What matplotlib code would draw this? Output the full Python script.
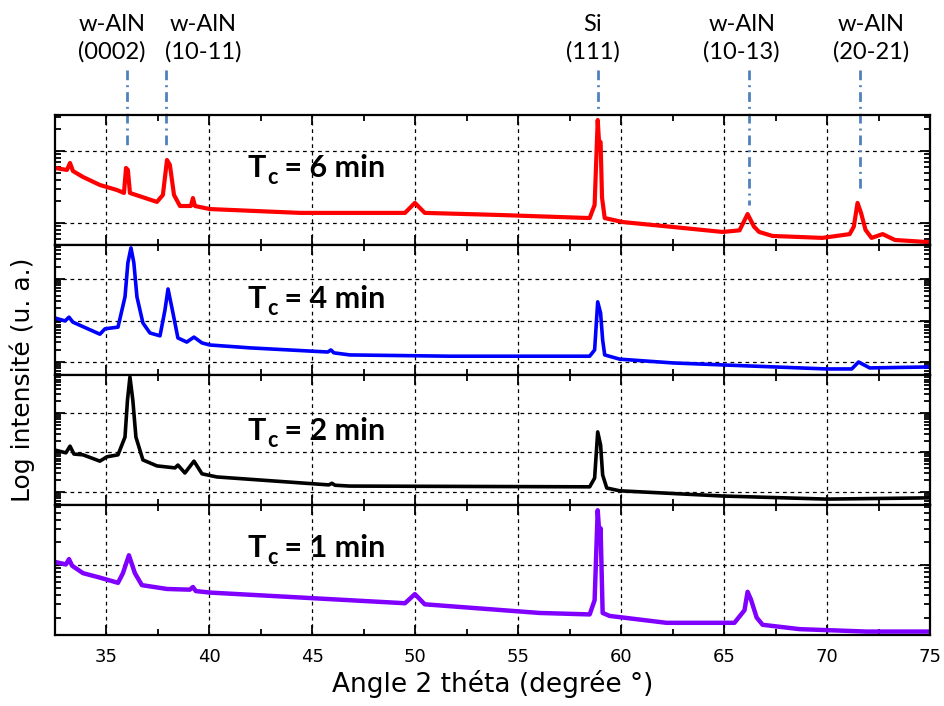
import matplotlib
matplotlib.use('Agg')
import matplotlib.pyplot as plt
from matplotlib.ticker import MultipleLocator, NullFormatter, LogLocator
import matplotlib.transforms as mtransforms

# --- XRD scans (2 theta in degrees, intensity in counts) ---
tt_6 = [32.5, 33.08, 33.23, 33.37, 33.86, 34.68, 35.51, 35.85, 35.95, 36.04, 36.14, 37.45, 37.74,
        37.94, 38.08, 38.28, 38.57, 39.1, 39.2, 39.3, 40.02, 44.4, 49.5, 49.98, 50.46, 54.1,
        58.47, 58.71, 58.86, 58.93, 59.0, 59.07, 59.2, 60.07, 62.5, 64.93, 65.75, 66.14, 66.45,
        66.7, 67.35, 69.78, 71.1, 71.3, 71.48, 71.65, 71.87, 72.16, 72.7, 73.3, 75.0]
int_6 = [581, 545, 681, 527, 435, 337, 287, 261, 581, 545, 261, 196, 245,
         750, 640, 245, 172, 172, 222, 172, 156, 138, 138, 190, 138, 129,
         117, 178, 2698, 1259, 1333, 224, 117, 103, 88, 75, 79, 133, 89,
         75, 66, 62, 70, 89, 190, 138, 80, 62, 70, 58, 54]

tt_4 = [32.5, 32.99, 33.18, 33.37, 34.68, 34.93, 35.56, 35.9, 36.04, 36.19, 36.33, 36.48, 36.77,
        37.11, 37.6, 37.84, 37.99, 38.23, 38.47, 38.9, 39.25, 39.64, 40.02, 41.97, 45.75, 45.9,
        46.05, 46.82, 51.67, 58.47, 58.71, 58.86, 59.0, 59.1, 59.2, 59.93, 62.5, 64.93, 69.97,
        71.2, 71.53, 72.07, 75.0]
int_4 = [1148, 977, 1202, 912, 468, 631, 692, 3715, 24547, 56234, 24547, 3715, 871,
         501, 427, 1778, 5754, 1514, 380, 302, 398, 288, 257, 219, 174, 195,
         166, 148, 138, 138, 195, 2818, 1514, 339, 148, 117, 95, 85, 68,
         68, 100, 72, 76]

tt_2 = [32.5, 33.03, 33.23, 33.42, 33.86, 34.68, 35.02, 35.56, 35.9, 36.02, 36.14, 36.28, 36.43,
        36.77, 37.45, 38.33, 38.47, 38.81, 39.25, 39.64, 40.36, 45.8, 45.95, 46.1, 46.82, 58.47,
        58.71, 58.86, 59.0, 59.1, 59.3, 59.93, 64.93, 69.97, 75.0]
int_2 = [1148, 977, 1445, 912, 871, 603, 776, 871, 2455, 21000, 81283, 21000, 2455,
         646, 457, 407, 479, 302, 603, 288, 240, 151, 166, 148, 141, 135,
         224, 3311, 1549, 269, 126, 107, 79, 66, 71]

tt_1 = [32.5, 33.03, 33.18, 33.33, 33.86, 34.68, 35.56, 35.8, 36.09, 36.38, 36.72, 37.94, 39.05,
        39.2, 39.34, 40.02, 46.82, 49.5, 49.98, 50.46, 56.04, 58.47, 58.71, 58.86, 58.96, 59.0,
        59.1, 59.44, 62.2, 65.5, 65.99, 66.14, 66.3, 66.58, 66.87, 68.67, 71.92, 75.0]
int_1 = [110, 102, 120, 98, 78, 68, 58, 78, 135, 78, 54, 48, 47,
         51, 45, 43, 34, 31, 41, 30, 23, 22, 34, 537, 214, 309,
         23, 21, 17, 17, 25, 44, 35, 20, 16, 14, 13, 13]

durations = ["6", "4", "2", "1"]
colors = ["#ff0000", "#0000ff", "#000000", "#8000ff"]

peak_names = ["w-AlN\n(0002)", "w-AlN\n(10-11)", "Si\n(111)", "w-AlN\n(10-13)", "w-AlN\n(20-21)"]
peak_pos = [36.0, 37.9, 58.85, 66.2, 71.6]

scans = [(tt_6, int_6), (tt_4, int_4), (tt_2, int_2), (tt_1, int_1)]
ylims = [(49.4, 3162), (48.6, 66000), (46.8, 91200), (11.7, 631)]
tc_y = [0.52, 0.515, 0.5, 0.6]
line_w = [3, 2.6, 2.6, 3.2]

fig, axes = plt.subplots(4, 1, sharex=True, figsize=(9.44, 7.06), dpi=100)
fig.subplots_adjust(left=55/944, right=930/944, top=1-115/706, bottom=1-635/706, hspace=0)

for i, ax in enumerate(axes):
    tt, inten = scans[i]
    ax.plot(tt, inten, color=colors[i], lw=line_w[i], solid_joinstyle='round')
    ax.set_yscale('log')
    ax.set_ylim(*ylims[i])
    ax.set_xlim(32.5, 75)
    ax.xaxis.set_major_locator(MultipleLocator(5))
    ax.xaxis.set_minor_locator(MultipleLocator(2.5))
    ax.yaxis.set_major_locator(LogLocator(base=10))
    ax.yaxis.set_minor_locator(LogLocator(base=10, subs=range(2, 10)))
    ax.yaxis.set_major_formatter(NullFormatter())
    ax.yaxis.set_minor_formatter(NullFormatter())
    ax.tick_params(which='both', direction='in', top=True, right=True, width=1.3)
    ax.tick_params(which='major', length=7)
    ax.tick_params(which='minor', length=4)
    ax.tick_params(axis='x', labelsize=13, pad=9)
    for sp in ax.spines.values():
        sp.set_linewidth(1.6)
    ax.grid(True, which='major', color='k', lw=0.9, linestyle=(0, (3, 3)))

    # "Tc = x min" label with subscript
    t = ax.text(41.87, tc_y[i], "T", transform=mtransforms.blended_transform_factory(ax.transData, ax.transAxes),
                fontsize=22, fontweight='bold', family='Lato', va='baseline')
    s = ax.annotate("c", xy=(1, 0), xycoords=t, xytext=(0.5, -4), textcoords='offset points',
                    fontsize=15.5, fontweight='bold', family='Lato', va='bottom')
    ax.annotate(" = %s min" % durations[i], xy=(1, 0), xycoords=(s, t),
                fontsize=22, fontweight='bold', family='Lato', va='bottom')

# peak markers above the top panel
top = axes[0]
trans = mtransforms.blended_transform_factory(top.transData, top.transAxes)
line_end = [0.754, 0.754, 1.038, 0.308, 0.408]
label_x = [35.27, 39.68, 58.62, 65.85, 72.16]
for k in range(len(peak_pos)):
    top.plot([peak_pos[k], peak_pos[k]], [1.346, line_end[k]], transform=trans, clip_on=False,
             color='#4f81bd', lw=2, linestyle=(0, (3.5, 1.8, 0.7, 1.8)))
    top.text(label_x[k], 1.592, peak_names[k], transform=trans, ha='center', va='center',
             fontsize=17, family='Lato', linespacing=1.35)

axes[-1].set_xlabel("Angle 2 théta (degrée °)", fontsize=19, labelpad=3)
fig.text(22/944, 1-380/706, "Log intensité (u. a.)", rotation=90, fontsize=18,
         ha='center', va='center')

plt.savefig('out.png', dpi=100)
